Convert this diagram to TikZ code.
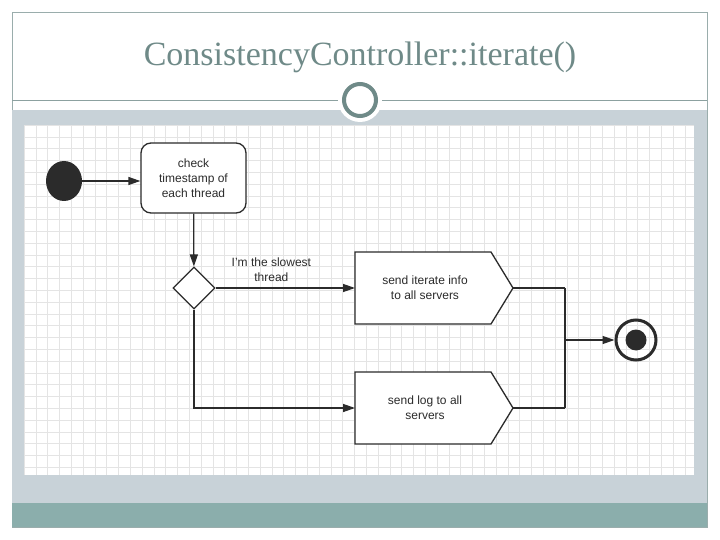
\documentclass[tikz,border=0pt]{standalone}
\usepackage{fontspec}
\setsansfont{Liberation Sans}
\setmainfont{Liberation Serif}
\usetikzlibrary{arrows.meta,shapes.geometric}
\definecolor{band}{HTML}{C8D2D8}
\definecolor{teal}{HTML}{8BAEAC}
\definecolor{titlec}{HTML}{6F8A88}
\definecolor{ink}{HTML}{2B2B2B}
\definecolor{gridc}{HTML}{E4E4E4}
\begin{document}
\begin{tikzpicture}[x=1pt,y=-1pt,
  lbl/.style={font=\sffamily\fontsize{12}{15}\selectfont,text=ink,align=center},
  con/.style={ink,line width=1.3pt},
  arr/.style={con,-{Triangle[length=12pt,width=8pt]}}]
\useasboundingbox (0,0) rectangle (720,540);
\fill[white] (0,0) rectangle (720,540);
\draw[titlec!70,line width=0.8pt] (12,12) rectangle (707,527);
\node[font=\fontsize{34}{38}\selectfont,text=titlec] (title) at (360,57) {ConsistencyController::iterate()};
\fill[band] (12,110) rectangle (707,503);
\fill[teal] (12,503) rectangle (707,527);
\draw[titlec!80,line width=0.8pt] (12,100) -- (707,100);
\fill[white] (360,100) circle (22);
\draw[titlec,line width=4pt,fill=white] (360,100) circle (16);
\fill[white] (24,125) rectangle (694,475);
\foreach \i in {0,...,56} {\draw[gridc,line width=0.5pt] (24+11.8*\i,125) -- (24+11.8*\i,475);}
\foreach \j in {0,...,29} {\draw[gridc,line width=0.5pt] (24,125+11.8*\j) -- (694,125+11.8*\j);}
% nodes
\node[ellipse,fill=ink,minimum width=36,minimum height=40,inner sep=0] (start) at (64,181) {};
\node[draw=ink,line width=1.3pt,fill=white,rounded corners=10,minimum width=105,minimum height=70,lbl,inner sep=2] (check) at (193.5,178) {check\\timestamp of\\each thread};
\node[diamond,draw=ink,fill=white,line width=1.3pt,minimum width=42,minimum height=42,inner sep=0] (dec) at (194,288) {};
\draw[con,fill=white] (355,252) -- (491,252) -- (513,288) -- (491,324) -- (355,324) -- cycle;
\node[lbl] (send1) at (425,288) {send iterate info\\to all servers};
\draw[con,fill=white] (355,372) -- (491,372) -- (513,408) -- (491,444) -- (355,444) -- cycle;
\node[lbl] (send2) at (425,408) {send log to all\\servers};
\coordinate (s1e) at (513,288);
\coordinate (s2e) at (513,408);
\coordinate (s1w) at (355,288);
\coordinate (s2w) at (355,408);
\coordinate (j1) at (565,288);
\coordinate (j2) at (565,408);
\coordinate (jm) at (565,340);
\coordinate (corner) at (194,408);
\node[circle,draw=ink,line width=3pt,minimum size=40,inner sep=0] (end) at (636,340) {};
\fill[ink] (end.center) circle (10.5);
% connectors
\draw[arr] (start) -- (start -| check.west);
\draw[arr] (check) -- (dec);
\draw[arr] (dec.east) -- node[lbl,above=2pt,pos=0.4] (l1) {I'm the slowest\\thread} (s1w);
\draw[arr] (dec.south) -- (corner) -- (s2w);
\draw[con] (s1e) -- (j1);
\draw[con] (s2e) -- (j2);
\draw[ink,line width=2.2pt] (j1) -- (j2);
\draw[arr] (jm) -- (end);
\end{tikzpicture}
\end{document}
